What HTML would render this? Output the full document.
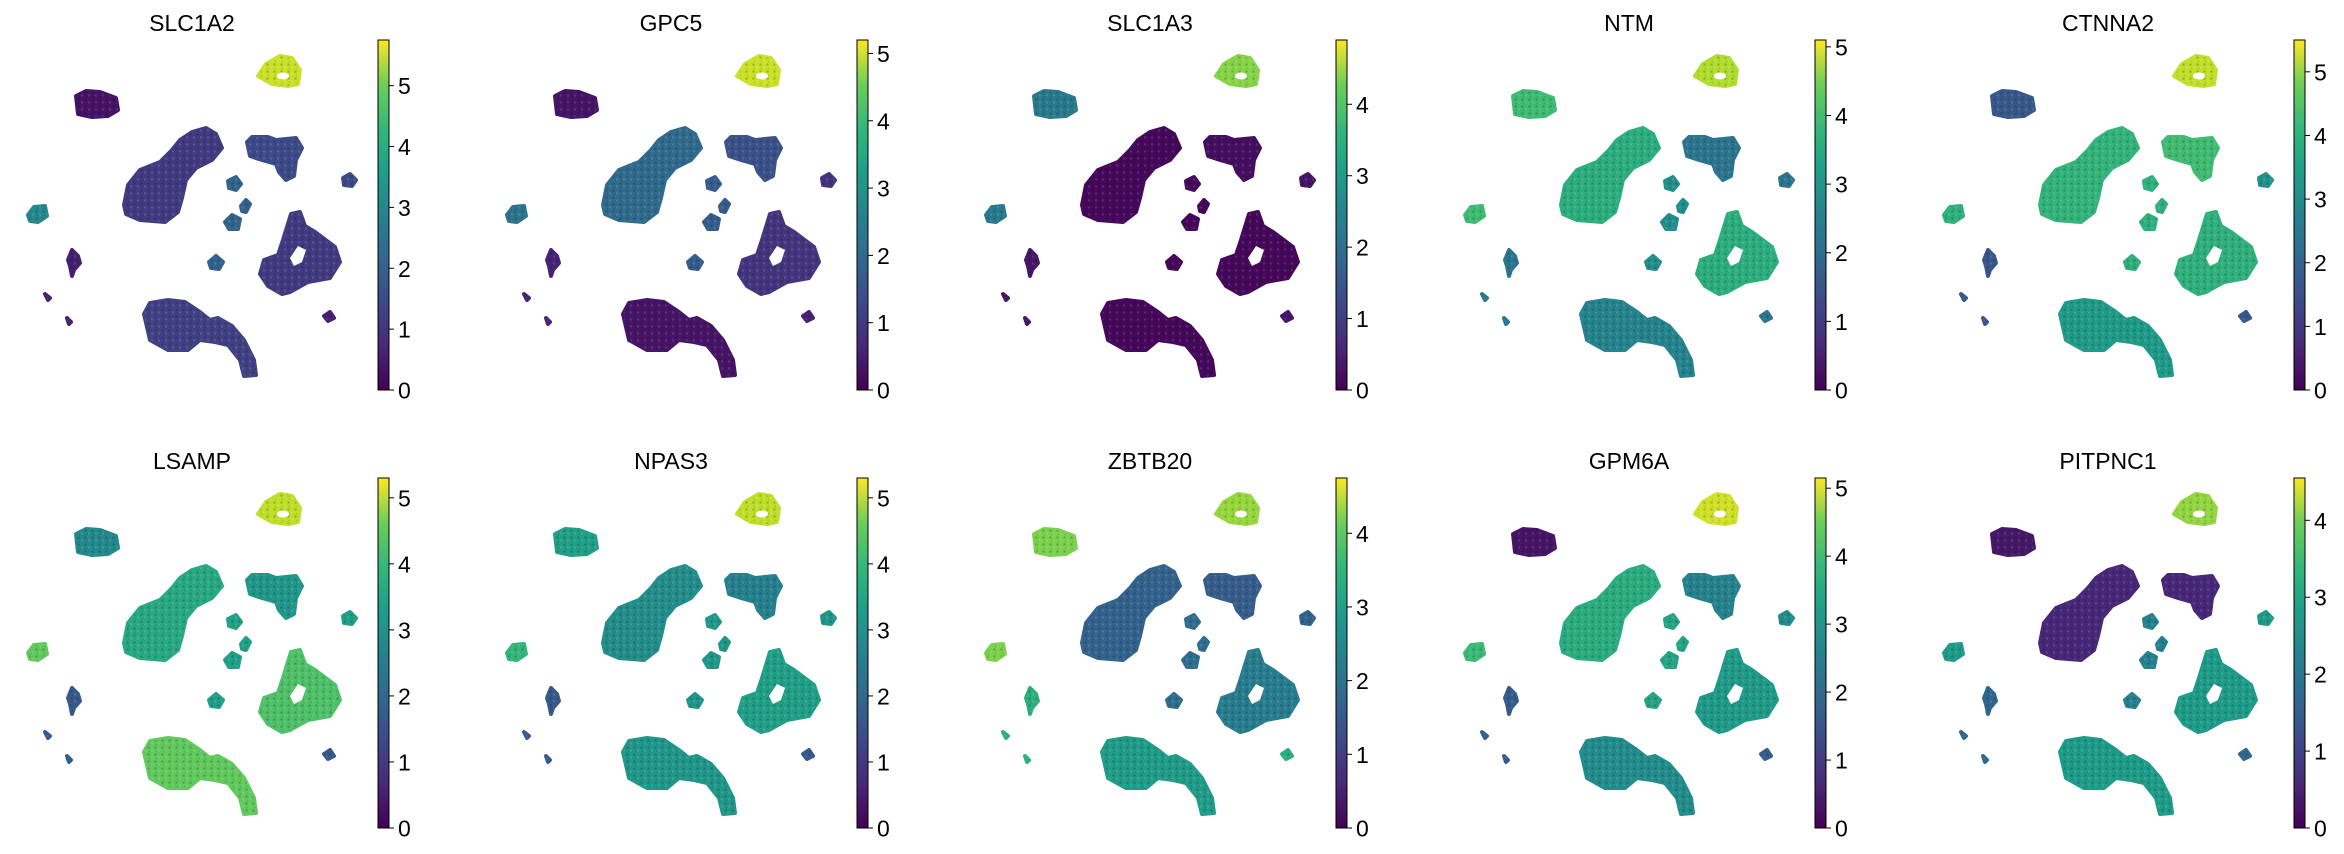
<!DOCTYPE html>
<html><head><meta charset="utf-8">
<style>
html,body{margin:0;padding:0;background:#fff;}
svg{display:block;}
text{font-family:"Liberation Sans",sans-serif;fill:#000;}
</style></head>
<body>
<svg id="fig" width="2344" height="854" viewBox="0 0 2344 854" xmlns="http://www.w3.org/2000/svg">
<defs>
<pattern id="speck" width="7" height="7" patternUnits="userSpaceOnUse">
<circle cx="1.5" cy="1.5" r="1.3" fill="#000" opacity="0.18"/>
<circle cx="5" cy="4.5" r="1.2" fill="#fff" opacity="0.12"/>
<circle cx="2.5" cy="5.5" r="1" fill="#000" opacity="0.1"/>
</pattern>
<linearGradient id="vir" x1="0" y1="1" x2="0" y2="0">
<stop offset="0" stop-color="#440154"/><stop offset="0.125" stop-color="#482878"/>
<stop offset="0.25" stop-color="#3e4989"/><stop offset="0.375" stop-color="#31688e"/>
<stop offset="0.5" stop-color="#26828e"/><stop offset="0.625" stop-color="#1f9e89"/>
<stop offset="0.75" stop-color="#35b779"/><stop offset="0.875" stop-color="#6ece58"/>
<stop offset="1" stop-color="#fde725"/>
</linearGradient>
</defs>
</svg>
<script>
// genes (panel titles) and colorbar maxima
const genes = ["SLC1A2","GPC5","SLC1A3","NTM","CTNNA2","LSAMP","NPAS3","ZBTB20","GPM6A","PITPNC1"];
const vmax = [5.75,5.2,4.9,5.1,5.5,5.3,5.3,4.75,5.15,4.55];
// cluster order: A top-right, B top-left, C big, D right-middle, E far-right, F left-small, G small-middle, H right-bottom, I bottom, J small-left
const clusterNames = ["A","B","C","D","E","F","G","H","I","J"];
const expr = [
 [5.3,0.3,1.0,1.3,1.3,2.7,1.8,1.0,1.1,0.5],
 [4.8,0.3,1.8,1.3,0.8,2.0,1.5,0.8,0.3,0.5],
 [4.0,2.0,0.1,0.2,0.3,2.0,0.1,0.1,0.1,0.3],
 [4.5,3.5,3.2,2.0,2.0,3.5,2.5,3.2,2.3,2.0],
 [5.0,1.5,3.6,3.8,2.8,3.5,3.5,3.5,3.0,1.5],
 [4.8,2.5,3.2,2.8,3.0,4.0,3.0,3.8,4.0,1.5],
 [4.8,3.0,2.6,2.3,2.8,3.5,2.8,3.0,2.8,1.5],
 [4.0,3.8,1.5,1.4,1.5,3.8,1.7,2.0,2.6,3.0],
 [4.8,0.3,3.2,2.3,2.5,3.5,3.0,2.8,2.5,1.5],
 [3.8,0.3,0.5,0.5,2.5,2.5,2.0,2.5,2.5,1.5]
];
// cluster outlines in panel-local pixel geometry (layout, not data)
const shapes = {
 A:"M258,76 L266,64 L280,56 L292,58 L300,70 L298,84 L288,86 L272,84 Z",
 B:"M76,96 L86,91 L100,92 L116,98 L118,110 L108,116 L92,117 L78,114 Z",
 C:"M124,205 L128,185 L140,170 L160,162 L172,150 L180,140 L192,132 L206,128 L216,134 L222,148 L212,160 L196,168 L186,180 L182,198 L178,212 L165,222 L140,220 L126,214 Z",
 D:"M247,142 L252,137 L268,137 L276,140 L296,138 L302,148 L296,160 L294,176 L286,180 L279,172 L276,164 L262,160 L250,156 Z",
 E:"M343,178 L350,174 L356,180 L352,186 L344,185 Z",
 F:"M28,215 L34,207 L45,206 L47,216 L38,222 L30,221 Z",
 G:"M228,181 L236,177 L241,184 L236,190 L229,188 Z M241,206 L246,200 L250,204 L246,212 L242,211 Z M225,222 L232,215 L240,219 L238,229 L229,229 Z M209,262 L216,256 L223,262 L219,269 L211,268 Z",
 H:"M260,274 L264,260 L278,255 L283,240 L291,214 L300,212 L305,226 L315,232 L335,247 L340,262 L330,278 L308,282 L290,292 L282,294 L268,286 Z",
 I:"M144,314 L150,303 L168,300 L185,302 L200,312 L210,320 L218,318 L232,326 L244,340 L254,360 L256,375 L244,376 L240,360 L228,345 L215,342 L200,340 L188,350 L168,350 L150,340 Z",
 J:"M68,260 L72,250 L78,256 L80,263 L74,270 L72,276 L70,266 Z M45,294 L50,298 L48,300 Z M67,318 L71,322 L69,324 Z M324,316 L330,312 L334,318 L328,321 Z"
};
const vstops=[[68,1,84],[72,40,120],[62,74,137],[49,104,142],[38,130,142],[31,158,137],[53,183,121],[110,206,88],[181,222,43],[253,231,37]];
function viridis(t){t=Math.max(0,Math.min(1,t));const f=t*(vstops.length-1);const i=Math.min(Math.floor(f),vstops.length-2);const u=f-i;
 const c=vstops[i].map((v,k)=>Math.round(v+(vstops[i+1][k]-v)*u));return `rgb(${c[0]},${c[1]},${c[2]})`;}
const NS="http://www.w3.org/2000/svg";
const fig=document.getElementById('fig');
const CB_X=378, CB_W=11, CB_TOP=40, CB_BOT=390, COLW=479, ROWH=438;
function mk(tag,attrs,parent){const e=document.createElementNS(NS,tag);for(const k in attrs)e.setAttribute(k,attrs[k]);parent.appendChild(e);return e;}
genes.forEach((g,gi)=>{
 const col=gi%5,row=Math.floor(gi/5);
 const ox=col*COLW, oy=row*ROWH;
 const p=mk('g',{transform:`translate(${ox},${oy})`},fig);
 
 
 const t=mk('text',{x:192,y:31,'text-anchor':'middle','font-size':23},p);
 t.textContent=g;
 
 
 const sc=mk('g',{},p);
 
 
 clusterNames.forEach((cn,ci)=>{
  const col2=viridis(expr[gi][ci]/vmax[gi]);
  const path=mk('path',{d:shapes[cn],fill:col2,stroke:col2,'stroke-width':4,'stroke-linejoin':'round'},sc);
  
  
  mk('path',{d:shapes[cn],fill:'url(#speck)'},sc);
 });
 // holes
 mk('ellipse',{cx:283,cy:76,rx:6,ry:3.5,fill:'#fff'},sc);
 mk('path',{d:'M290,258 L298,246 L306,250 L302,262 L294,266 Z',fill:'#fff'},sc);
 // colorbar
 const cb=mk('g',{},p);
 
 
 mk('rect',{x:CB_X,y:CB_TOP,width:CB_W,height:CB_BOT-CB_TOP,fill:'url(#vir)',stroke:'#000','stroke-width':1},cb);
 const ys=v=>CB_BOT-(v/vmax[gi])*(CB_BOT-CB_TOP);
 for(let v=0;v<=vmax[gi];v++){
  const y=ys(v);
  mk('line',{x1:CB_X+CB_W,x2:CB_X+CB_W+5,y1:y,y2:y,stroke:'#000','stroke-width':1},cb);
  const tt=mk('text',{x:CB_X+CB_W+9,y:y+8.5,'font-size':23},cb);
  tt.textContent=v;
  
  
 }
});
</script>
</body></html>
